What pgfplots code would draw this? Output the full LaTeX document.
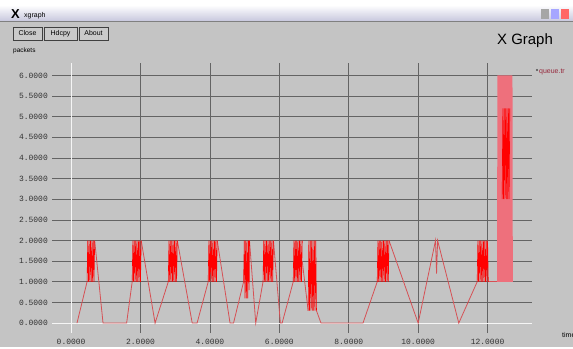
\documentclass[border=0pt]{standalone}
\usepackage{pgfplots}
\pgfplotsset{compat=1.18}
\usepackage{fontspec}
\setmainfont{Liberation Sans}
\newfontfamily\monof{Liberation Mono}
\definecolor{bg}{RGB}{196,196,196}
\definecolor{gridc}{RGB}{100,100,100}
\definecolor{lnc}{RGB}{214,80,84}
\definecolor{pinkc}{RGB}{238,112,124}
\definecolor{titlebar}{RGB}{200,200,222}
\definecolor{legc}{RGB}{150,40,60}
\begin{document}
\begin{tikzpicture}
\begin{scope}[x=1bp,y=1bp]
\useasboundingbox (0,0) rectangle (573,347);
\clip (0,0) rectangle (573,347);
\fill[bg] (0,0) rectangle (573,347);
% title bar
\fill[white] (0,340) rectangle (573,347);
\shade[top color=white, bottom color=titlebar] (0,326) rectangle (573,342);
\draw[gray] (0,325.5) -- (573,325.5);
\node[anchor=base west, inner sep=0] at (11,329) {\bfseries\fontsize{13}{13}\selectfont X};
\node[anchor=base west, inner sep=0] at (24,330) {\fontsize{7}{7}\selectfont xgraph};
\fill[gray!70] (541,328) rectangle (549,338);
\fill[blue!35] (551,328) rectangle (559,338);
\fill[red!60] (561,328) rectangle (569,338);
% buttons
\foreach \a/\b/\t in {13/42/Close,44/77/Hdcpy,79/108/About}{
  \draw[black!75, line width=0.8pt, fill=bg!90!white] (\a,307) rectangle (\b,320);
  \node[inner sep=0] at ({(\a+\b)/2},313.5) {\fontsize{7}{7}\selectfont \t};
}
\node[anchor=base west, inner sep=0] at (497,303) {\fontsize{15}{15}\selectfont X Graph};
\node[anchor=base west, inner sep=0] at (13,295) {\fontsize{6.5}{6.5}\selectfont packets};
\fill[black!70] (537,277) circle (1.2);
\node[anchor=base west, inner sep=0, text=legc] at (539,274) {\fontsize{7}{7}\selectfont queue.tr};
\node[anchor=base west, inner sep=0] at (562,10) {\fontsize{7}{7}\selectfont time};
\end{scope}
\begin{axis}[at={(52bp,14bp)}, anchor=south west, scale only axis,
  width=480bp, height=270bp,
  xmin=-0.55, xmax=13.28, ymin=-0.24, ymax=6.30,
  axis line style={draw=none}, tick style={draw=none},
  grid=major, major grid style={gridc, line width=0.7pt},
  xtick={0,2,4,6,8,10,12},
  ytick={0,0.5,1,1.5,2,2.5,3,3.5,4,4.5,5,5.5,6},
  tick label style={font=\monof\fontsize{8}{8}\selectfont, text=black!80},
  /pgf/number format/fixed,
  /pgf/number format/fixed zerofill,
  /pgf/number format/precision=4,
  /pgf/number format/assume math mode=true,
  /pgf/number format/1000 sep={},
  yticklabel style={inner sep=1pt, xshift=-3bp},
  xticklabel style={yshift=-3bp},
  clip=false]
\draw[white!92!gray, line width=0.9pt] (axis cs:0,-0.24) -- (axis cs:0,6.30);
\draw[white!92!gray, line width=0.9pt] (axis cs:-0.55,0) -- (axis cs:13.28,0);
% connectors
\pgfplotsset{conn/.style={lnc, line width=0.8pt}, blk/.style={red, line width=0.6pt}}
\addplot[conn] coordinates {(0.17,0)(0.46,1)};
\addplot[conn] coordinates {(0.68,2)(0.92,0)(1.60,0)(1.76,1)};
\addplot[conn] coordinates {(2.02,2)(2.42,0)(2.80,1)};
\addplot[conn] coordinates {(3.06,2)(3.49,0)(3.63,0)(3.95,1)};
\addplot[conn] coordinates {(4.21,2)(4.58,0)(4.68,0)(4.97,1)};
\addplot[conn] coordinates {(5.14,2)(5.32,0)(5.53,1)};
\addplot[conn] coordinates {(5.83,2)(6.03,0)(6.08,0)(6.40,1)};
\addplot[conn] coordinates {(6.66,1.5)(6.83,0.3)};
\addplot[conn] coordinates {(7.07,0.3)(7.20,0)(8.41,0)(8.82,1)};
\addplot[conn] coordinates {(9.16,2)(10.00,0)(10.50,2)(10.53,1.2)(10.56,2)(11.17,0)(11.70,1)};
\addplot[conn] coordinates {(12.02,1)(12.28,1)};
% dense blocks
\addplot[blk] coordinates {(0.46,1)(0.48,2)(0.50,1)(0.52,2)(0.54,1)(0.56,2)(0.58,1)(0.60,2)(0.62,1)(0.64,2)(0.66,1)(0.68,2)};
\addplot[blk] coordinates {(1.76,1)(1.78,2)(1.80,1)(1.82,2)(1.84,1)(1.86,2)(1.88,1)(1.90,2)(1.92,1)(1.94,2)(1.96,1)(1.98,2)(2.00,1)(2.02,2)};
\addplot[blk] coordinates {(2.80,1)(2.82,2)(2.84,1)(2.86,2)(2.88,1)(2.90,2)(2.92,1)(2.94,2)(2.96,1)(2.98,2)(3.00,1)(3.02,2)(3.04,1)(3.06,2)};
\addplot[blk] coordinates {(3.95,1)(3.97,2)(3.99,1)(4.01,2)(4.03,1)(4.05,2)(4.07,1)(4.09,2)(4.11,1)(4.13,2)(4.15,1)(4.17,2)(4.19,1)(4.21,2)};
\addplot[blk] coordinates {(4.97,1)(4.99,2)(5.01,0.6)(5.03,2)(5.05,0.6)(5.07,2)(5.09,0.6)(5.11,2)(5.13,0.8)(5.14,2)};
\addplot[blk] coordinates {(5.53,1)(5.55,2)(5.57,1)(5.59,2)(5.61,1)(5.63,2)(5.65,1)(5.67,2)(5.69,1)(5.71,2)(5.73,1)(5.75,2)(5.77,1)(5.79,2)(5.81,1)(5.83,2)};
\addplot[blk] coordinates {(6.40,1)(6.42,2)(6.44,1)(6.46,2)(6.48,1)(6.50,2)(6.52,1)(6.54,2)(6.56,1)(6.58,2)(6.60,1)(6.62,2)(6.64,1)(6.66,2)};
\addplot[blk] coordinates {(6.83,0.3)(6.85,2)(6.87,0.3)(6.89,2)(6.91,0.3)(6.93,2)(6.95,0.3)(6.97,2)(6.99,0.3)(7.01,2)(7.03,0.3)(7.05,2)(7.07,0.3)};
\addplot[blk] coordinates {(8.82,1)(8.84,2)(8.86,1)(8.88,2)(8.90,1)(8.92,2)(8.94,1)(8.96,2)(8.98,1)(9.00,2)(9.02,1)(9.04,2)(9.06,1)(9.08,2)(9.10,1)(9.12,2)(9.14,1)(9.16,2)};
\addplot[blk] coordinates {(11.70,1)(11.72,2)(11.74,1)(11.76,2)(11.78,1)(11.80,2)(11.82,1)(11.84,2)(11.86,1)(11.88,2)(11.90,1)(11.92,2)(11.94,1)(11.96,2)(11.98,1)(12.00,2)(12.02,1)};
% tall block
\addplot[pinkc, line width=0.5pt] coordinates {(12.28,1)(12.29,6)(12.30,1)(12.31,6)(12.32,1)(12.33,6)(12.34,1)(12.35,6)(12.36,1)(12.37,6)(12.38,1)(12.39,6)(12.40,1)(12.41,6)(12.42,1)(12.43,6)(12.44,1)(12.45,6)(12.46,1)(12.47,6)(12.48,1)(12.49,6)(12.50,1)(12.51,6)(12.52,1)(12.53,6)(12.54,1)(12.55,6)(12.56,1)(12.57,6)(12.58,1)(12.59,6)(12.60,1)(12.61,6)(12.62,1)(12.63,6)(12.64,1)(12.65,6)(12.66,1)(12.67,6)(12.68,1)(12.69,6)(12.70,1)(12.71,6)(12.72,1)};
\addplot[blk] coordinates {(12.42,3)(12.44,5.2)(12.46,3)(12.48,5.2)(12.50,3)(12.52,5.2)(12.54,3)(12.56,5.2)(12.58,3)(12.60,5.2)(12.62,3)(12.64,5.2)};
\end{axis}
\end{tikzpicture}
\end{document}
